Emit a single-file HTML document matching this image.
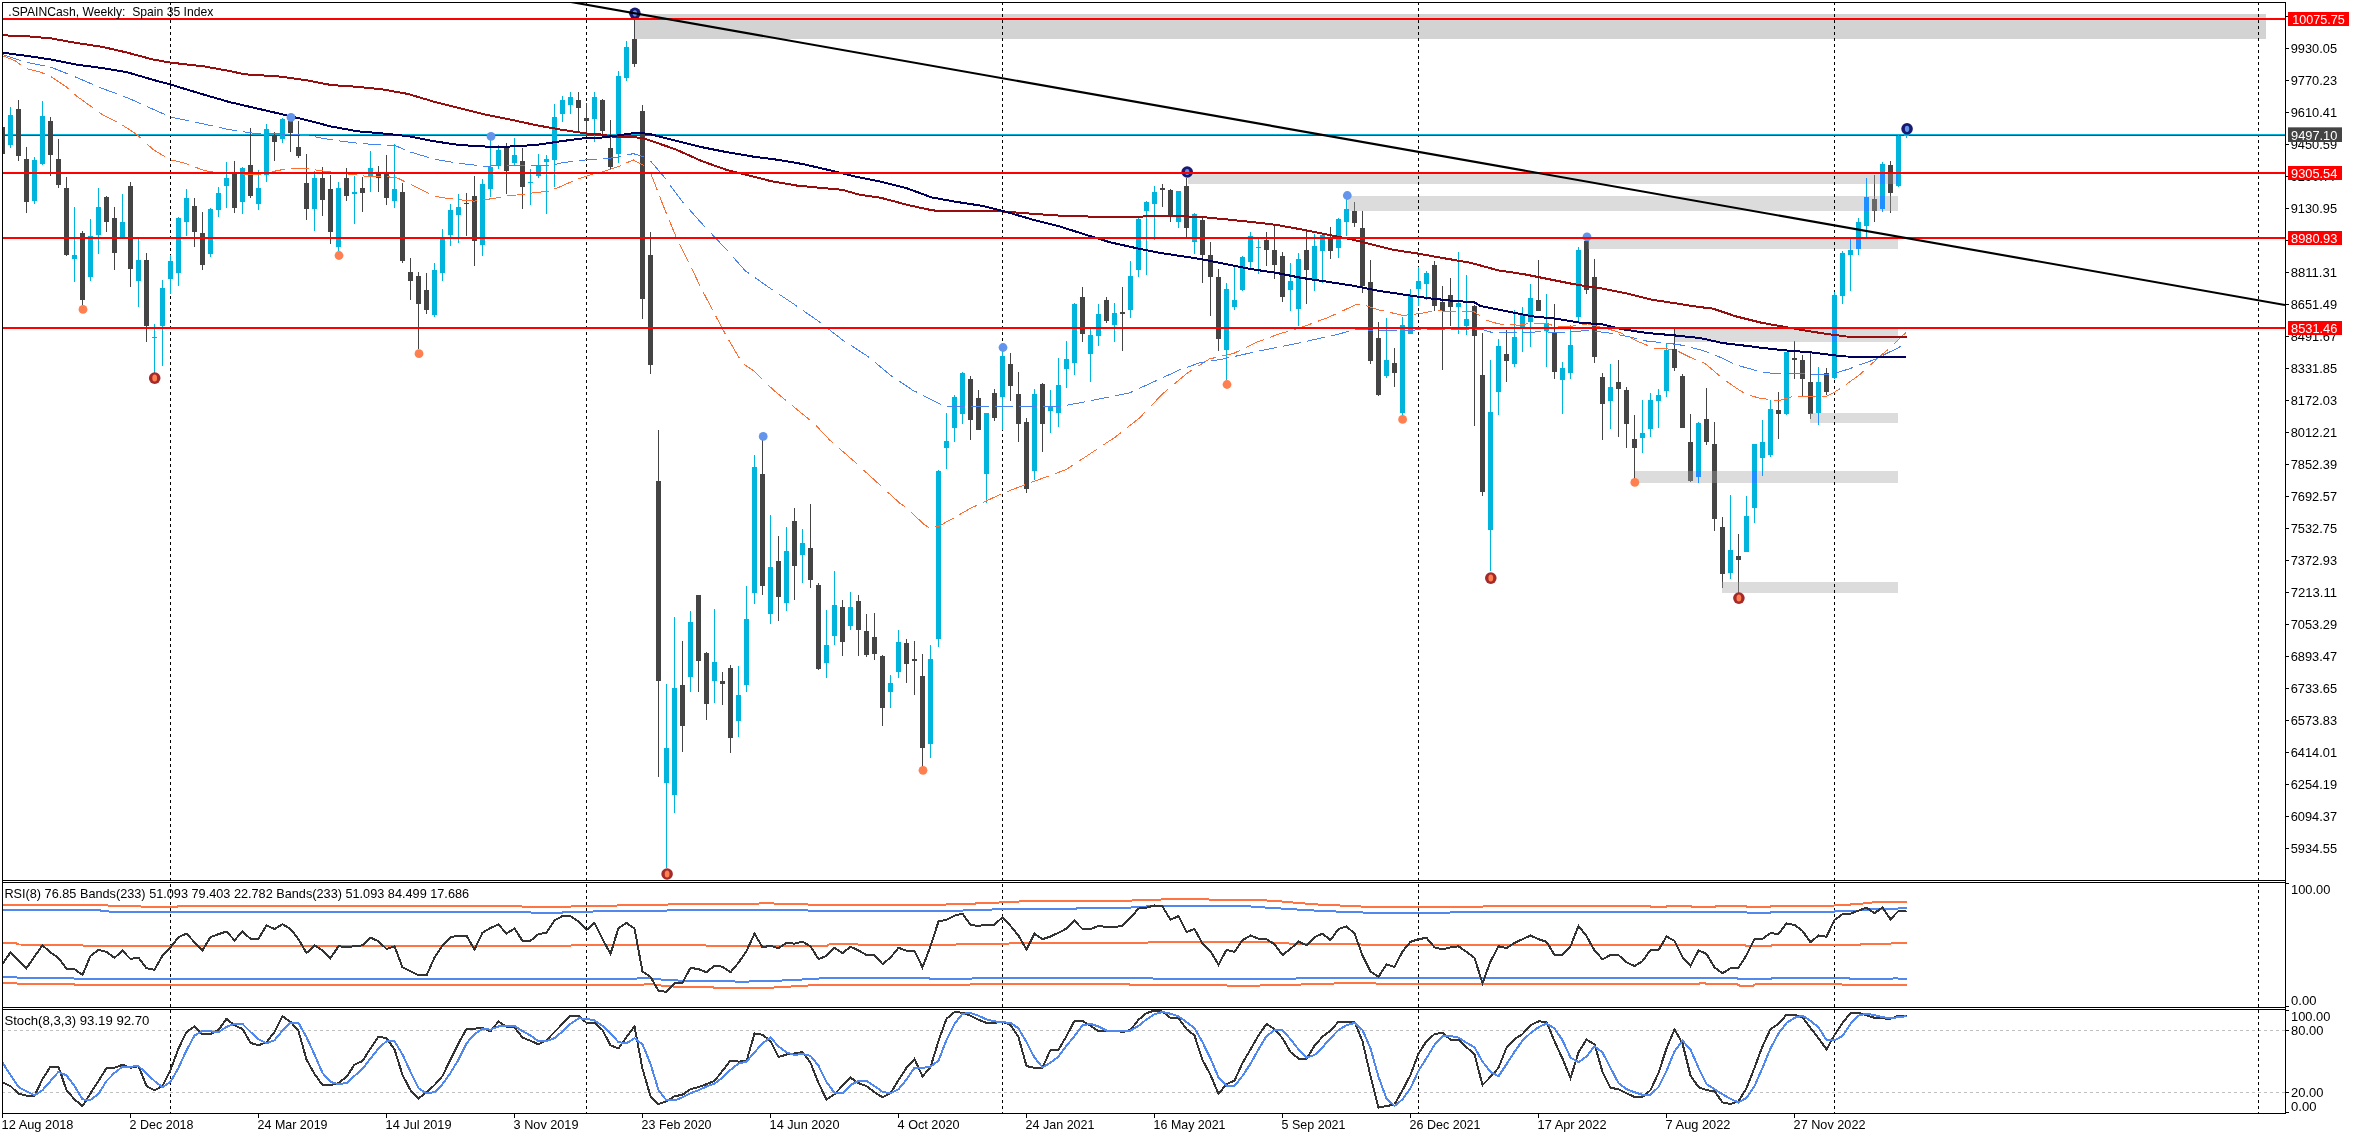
<!DOCTYPE html><html><head><meta charset="utf-8"><title>.SPAINCash Weekly</title><style>html,body{margin:0;padding:0;background:#fff}svg{display:block}</style></head><body><svg width="2355" height="1137" viewBox="0 0 2355 1137" font-family="'Liberation Sans', sans-serif" font-size="12.2px">
<defs><filter id="gs" filterUnits="userSpaceOnUse" x="0" y="0" width="2355" height="1137" color-interpolation-filters="sRGB"><feColorMatrix type="matrix" values="1 0 0 0 0 0 1 0 0 0 0 0 1 0 0 0 0 0 1 0"/></filter><clipPath id="cm"><rect x="3" y="3" width="2282" height="877"/></clipPath><clipPath id="cr"><rect x="3" y="883" width="2282" height="124"/></clipPath><clipPath id="cs"><rect x="3" y="1010" width="2282" height="103"/></clipPath></defs>
<rect x="0" y="0" width="2355" height="1137" fill="#fff"/>
<g clip-path="url(#cm)" shape-rendering="crispEdges">
<rect x="635" y="14" width="1631" height="25" fill="#d3d3d3"/>
<rect x="1187.5" y="174" width="710.5" height="10" fill="#dcdcdc"/>
<rect x="1347.5" y="196" width="550.5" height="15" fill="#dcdcdc"/>
<rect x="1587.5" y="239" width="310.5" height="10" fill="#dcdcdc"/>
<rect x="1675" y="329" width="223" height="13" fill="#dcdcdc"/>
<rect x="1810" y="413" width="88" height="10" fill="#dcdcdc"/>
<rect x="1635" y="471" width="263" height="12" fill="#dcdcdc"/>
<rect x="1722" y="582" width="176" height="11" fill="#dcdcdc"/>
<line x1="170.5" y1="2" x2="170.5" y2="880" stroke="#000" stroke-width="1" stroke-dasharray="3 3"/>
<line x1="586.5" y1="2" x2="586.5" y2="880" stroke="#000" stroke-width="1" stroke-dasharray="3 3"/>
<line x1="1002.5" y1="2" x2="1002.5" y2="880" stroke="#000" stroke-width="1" stroke-dasharray="3 3"/>
<line x1="1418.5" y1="2" x2="1418.5" y2="880" stroke="#000" stroke-width="1" stroke-dasharray="3 3"/>
<line x1="1834.5" y1="2" x2="1834.5" y2="880" stroke="#000" stroke-width="1" stroke-dasharray="3 3"/>
<line x1="2258.5" y1="2" x2="2258.5" y2="880" stroke="#000" stroke-width="1" stroke-dasharray="3 3"/>
<rect x="3" y="134" width="2282" height="1" fill="#00b4dc"/>
<rect x="3" y="135" width="2282" height="1" fill="#444444"/>
<rect x="2" y="127" width="1" height="27" fill="#444444"/>
<rect x="0" y="127" width="5" height="27" fill="#444444"/>
<rect x="10" y="107" width="1" height="41" fill="#00b4dc"/>
<rect x="8" y="115" width="5" height="30" fill="#00b4dc"/>
<rect x="18" y="100" width="1" height="61" fill="#444444"/>
<rect x="16" y="109" width="5" height="47" fill="#444444"/>
<rect x="26" y="147" width="1" height="66" fill="#444444"/>
<rect x="24" y="159" width="5" height="43" fill="#444444"/>
<rect x="34" y="157" width="1" height="47" fill="#00b4dc"/>
<rect x="32" y="160" width="5" height="41" fill="#00b4dc"/>
<rect x="42" y="101" width="1" height="64" fill="#00b4dc"/>
<rect x="40" y="116" width="5" height="48" fill="#00b4dc"/>
<rect x="50" y="117" width="1" height="59" fill="#444444"/>
<rect x="48" y="121" width="5" height="34" fill="#444444"/>
<rect x="58" y="139" width="1" height="49" fill="#444444"/>
<rect x="56" y="159" width="5" height="26" fill="#444444"/>
<rect x="66" y="177" width="1" height="79" fill="#444444"/>
<rect x="64" y="188" width="5" height="67" fill="#444444"/>
<rect x="74" y="207" width="1" height="75" fill="#00b4dc"/>
<rect x="72" y="255" width="5" height="4" fill="#00b4dc"/>
<rect x="82" y="231" width="1" height="74" fill="#444444"/>
<rect x="80" y="233" width="5" height="67" fill="#444444"/>
<rect x="90" y="219" width="1" height="62" fill="#00b4dc"/>
<rect x="88" y="236" width="5" height="41" fill="#00b4dc"/>
<rect x="98" y="188" width="1" height="66" fill="#00b4dc"/>
<rect x="96" y="207" width="5" height="28" fill="#00b4dc"/>
<rect x="106" y="196" width="1" height="36" fill="#444444"/>
<rect x="104" y="197" width="5" height="25" fill="#444444"/>
<rect x="114" y="207" width="1" height="63" fill="#444444"/>
<rect x="112" y="218" width="5" height="35" fill="#444444"/>
<rect x="122" y="194" width="1" height="44" fill="#00b4dc"/>
<rect x="120" y="222" width="5" height="16" fill="#00b4dc"/>
<rect x="130" y="182" width="1" height="105" fill="#444444"/>
<rect x="128" y="186" width="5" height="83" fill="#444444"/>
<rect x="138" y="239" width="1" height="68" fill="#00b4dc"/>
<rect x="136" y="260" width="5" height="21" fill="#00b4dc"/>
<rect x="146" y="253" width="1" height="89" fill="#444444"/>
<rect x="144" y="260" width="5" height="66" fill="#444444"/>
<rect x="154" y="324" width="1" height="49" fill="#00b4dc"/>
<rect x="152" y="337" width="5" height="1" fill="#00b4dc"/>
<rect x="162" y="280" width="1" height="86" fill="#00b4dc"/>
<rect x="160" y="288" width="5" height="38" fill="#00b4dc"/>
<rect x="170" y="255" width="1" height="39" fill="#00b4dc"/>
<rect x="168" y="261" width="5" height="18" fill="#00b4dc"/>
<rect x="178" y="217" width="1" height="69" fill="#00b4dc"/>
<rect x="176" y="218" width="5" height="55" fill="#00b4dc"/>
<rect x="186" y="189" width="1" height="47" fill="#00b4dc"/>
<rect x="184" y="198" width="5" height="24" fill="#00b4dc"/>
<rect x="194" y="198" width="1" height="49" fill="#444444"/>
<rect x="192" y="206" width="5" height="26" fill="#444444"/>
<rect x="202" y="212" width="1" height="58" fill="#444444"/>
<rect x="200" y="233" width="5" height="32" fill="#444444"/>
<rect x="210" y="208" width="1" height="49" fill="#00b4dc"/>
<rect x="208" y="209" width="5" height="45" fill="#00b4dc"/>
<rect x="218" y="187" width="1" height="30" fill="#00b4dc"/>
<rect x="216" y="193" width="5" height="17" fill="#00b4dc"/>
<rect x="226" y="162" width="1" height="46" fill="#00b4dc"/>
<rect x="224" y="178" width="5" height="8" fill="#00b4dc"/>
<rect x="234" y="161" width="1" height="52" fill="#444444"/>
<rect x="232" y="174" width="5" height="34" fill="#444444"/>
<rect x="242" y="167" width="1" height="47" fill="#00b4dc"/>
<rect x="240" y="168" width="5" height="34" fill="#00b4dc"/>
<rect x="250" y="128" width="1" height="70" fill="#444444"/>
<rect x="248" y="165" width="5" height="31" fill="#444444"/>
<rect x="258" y="170" width="1" height="40" fill="#00b4dc"/>
<rect x="256" y="188" width="5" height="16" fill="#00b4dc"/>
<rect x="266" y="124" width="1" height="58" fill="#00b4dc"/>
<rect x="264" y="129" width="5" height="46" fill="#00b4dc"/>
<rect x="274" y="132" width="1" height="29" fill="#444444"/>
<rect x="272" y="135" width="5" height="7" fill="#444444"/>
<rect x="282" y="118" width="1" height="25" fill="#00b4dc"/>
<rect x="280" y="119" width="5" height="20" fill="#00b4dc"/>
<rect x="290" y="118" width="1" height="34" fill="#444444"/>
<rect x="288" y="121" width="5" height="12" fill="#444444"/>
<rect x="298" y="121" width="1" height="37" fill="#444444"/>
<rect x="296" y="147" width="5" height="9" fill="#444444"/>
<rect x="306" y="154" width="1" height="66" fill="#444444"/>
<rect x="304" y="183" width="5" height="26" fill="#444444"/>
<rect x="314" y="171" width="1" height="60" fill="#00b4dc"/>
<rect x="312" y="178" width="5" height="31" fill="#00b4dc"/>
<rect x="322" y="167" width="1" height="49" fill="#444444"/>
<rect x="320" y="178" width="5" height="22" fill="#444444"/>
<rect x="330" y="175" width="1" height="69" fill="#444444"/>
<rect x="328" y="189" width="5" height="43" fill="#444444"/>
<rect x="338" y="182" width="1" height="69" fill="#00b4dc"/>
<rect x="336" y="188" width="5" height="59" fill="#00b4dc"/>
<rect x="346" y="168" width="1" height="33" fill="#444444"/>
<rect x="344" y="178" width="5" height="18" fill="#444444"/>
<rect x="354" y="176" width="1" height="48" fill="#00b4dc"/>
<rect x="352" y="192" width="5" height="2" fill="#00b4dc"/>
<rect x="362" y="177" width="1" height="35" fill="#444444"/>
<rect x="360" y="188" width="5" height="5" fill="#444444"/>
<rect x="370" y="151" width="1" height="41" fill="#00b4dc"/>
<rect x="368" y="168" width="5" height="8" fill="#00b4dc"/>
<rect x="378" y="166" width="1" height="26" fill="#444444"/>
<rect x="376" y="174" width="5" height="4" fill="#444444"/>
<rect x="386" y="155" width="1" height="50" fill="#444444"/>
<rect x="384" y="173" width="5" height="25" fill="#444444"/>
<rect x="394" y="144" width="1" height="64" fill="#00b4dc"/>
<rect x="392" y="189" width="5" height="12" fill="#00b4dc"/>
<rect x="402" y="183" width="1" height="80" fill="#444444"/>
<rect x="400" y="192" width="5" height="69" fill="#444444"/>
<rect x="410" y="258" width="1" height="42" fill="#444444"/>
<rect x="408" y="272" width="5" height="9" fill="#444444"/>
<rect x="418" y="272" width="1" height="77" fill="#444444"/>
<rect x="416" y="276" width="5" height="28" fill="#444444"/>
<rect x="426" y="273" width="1" height="41" fill="#444444"/>
<rect x="424" y="290" width="5" height="20" fill="#444444"/>
<rect x="434" y="263" width="1" height="54" fill="#00b4dc"/>
<rect x="432" y="270" width="5" height="45" fill="#00b4dc"/>
<rect x="442" y="229" width="1" height="52" fill="#00b4dc"/>
<rect x="440" y="239" width="5" height="34" fill="#00b4dc"/>
<rect x="450" y="204" width="1" height="42" fill="#00b4dc"/>
<rect x="448" y="210" width="5" height="25" fill="#00b4dc"/>
<rect x="458" y="194" width="1" height="49" fill="#00b4dc"/>
<rect x="456" y="207" width="5" height="8" fill="#00b4dc"/>
<rect x="466" y="193" width="1" height="43" fill="#444444"/>
<rect x="464" y="203" width="5" height="1" fill="#444444"/>
<rect x="474" y="176" width="1" height="90" fill="#444444"/>
<rect x="472" y="196" width="5" height="45" fill="#444444"/>
<rect x="482" y="179" width="1" height="77" fill="#00b4dc"/>
<rect x="480" y="184" width="5" height="61" fill="#00b4dc"/>
<rect x="490" y="140" width="1" height="57" fill="#00b4dc"/>
<rect x="488" y="167" width="5" height="22" fill="#00b4dc"/>
<rect x="498" y="145" width="1" height="24" fill="#00b4dc"/>
<rect x="496" y="150" width="5" height="16" fill="#00b4dc"/>
<rect x="506" y="143" width="1" height="51" fill="#444444"/>
<rect x="504" y="148" width="5" height="23" fill="#444444"/>
<rect x="514" y="138" width="1" height="28" fill="#00b4dc"/>
<rect x="512" y="155" width="5" height="8" fill="#00b4dc"/>
<rect x="522" y="148" width="1" height="61" fill="#444444"/>
<rect x="520" y="161" width="5" height="26" fill="#444444"/>
<rect x="530" y="169" width="1" height="36" fill="#00b4dc"/>
<rect x="528" y="182" width="5" height="1" fill="#00b4dc"/>
<rect x="538" y="154" width="1" height="24" fill="#00b4dc"/>
<rect x="536" y="165" width="5" height="11" fill="#00b4dc"/>
<rect x="546" y="155" width="1" height="59" fill="#00b4dc"/>
<rect x="544" y="159" width="5" height="3" fill="#00b4dc"/>
<rect x="554" y="104" width="1" height="83" fill="#00b4dc"/>
<rect x="552" y="117" width="5" height="43" fill="#00b4dc"/>
<rect x="562" y="96" width="1" height="26" fill="#00b4dc"/>
<rect x="560" y="100" width="5" height="14" fill="#00b4dc"/>
<rect x="570" y="92" width="1" height="22" fill="#00b4dc"/>
<rect x="568" y="97" width="5" height="8" fill="#00b4dc"/>
<rect x="578" y="92" width="1" height="39" fill="#444444"/>
<rect x="576" y="100" width="5" height="8" fill="#444444"/>
<rect x="586" y="103" width="1" height="32" fill="#444444"/>
<rect x="584" y="118" width="5" height="3" fill="#444444"/>
<rect x="594" y="92" width="1" height="50" fill="#00b4dc"/>
<rect x="592" y="97" width="5" height="22" fill="#00b4dc"/>
<rect x="602" y="99" width="1" height="36" fill="#444444"/>
<rect x="600" y="100" width="5" height="31" fill="#444444"/>
<rect x="610" y="120" width="1" height="49" fill="#444444"/>
<rect x="608" y="148" width="5" height="19" fill="#444444"/>
<rect x="618" y="71" width="1" height="92" fill="#00b4dc"/>
<rect x="616" y="76" width="5" height="78" fill="#00b4dc"/>
<rect x="626" y="41" width="1" height="40" fill="#00b4dc"/>
<rect x="624" y="47" width="5" height="31" fill="#00b4dc"/>
<rect x="634" y="19" width="1" height="48" fill="#444444"/>
<rect x="632" y="39" width="5" height="25" fill="#444444"/>
<rect x="642" y="105" width="1" height="214" fill="#444444"/>
<rect x="640" y="111" width="5" height="188" fill="#444444"/>
<rect x="650" y="232" width="1" height="142" fill="#444444"/>
<rect x="648" y="255" width="5" height="110" fill="#444444"/>
<rect x="658" y="430" width="1" height="347" fill="#444444"/>
<rect x="656" y="481" width="5" height="200" fill="#444444"/>
<rect x="666" y="684" width="1" height="184" fill="#00b4dc"/>
<rect x="664" y="748" width="5" height="35" fill="#00b4dc"/>
<rect x="674" y="617" width="1" height="196" fill="#00b4dc"/>
<rect x="672" y="688" width="5" height="107" fill="#00b4dc"/>
<rect x="682" y="641" width="1" height="111" fill="#444444"/>
<rect x="680" y="685" width="5" height="41" fill="#444444"/>
<rect x="690" y="611" width="1" height="81" fill="#00b4dc"/>
<rect x="688" y="622" width="5" height="55" fill="#00b4dc"/>
<rect x="698" y="595" width="1" height="97" fill="#444444"/>
<rect x="696" y="595" width="5" height="66" fill="#444444"/>
<rect x="706" y="652" width="1" height="68" fill="#444444"/>
<rect x="704" y="653" width="5" height="51" fill="#444444"/>
<rect x="714" y="609" width="1" height="94" fill="#00b4dc"/>
<rect x="712" y="662" width="5" height="19" fill="#00b4dc"/>
<rect x="722" y="672" width="1" height="33" fill="#444444"/>
<rect x="720" y="681" width="5" height="3" fill="#444444"/>
<rect x="730" y="665" width="1" height="88" fill="#444444"/>
<rect x="728" y="668" width="5" height="70" fill="#444444"/>
<rect x="738" y="666" width="1" height="71" fill="#00b4dc"/>
<rect x="736" y="695" width="5" height="26" fill="#00b4dc"/>
<rect x="746" y="586" width="1" height="106" fill="#00b4dc"/>
<rect x="744" y="619" width="5" height="66" fill="#00b4dc"/>
<rect x="754" y="455" width="1" height="149" fill="#00b4dc"/>
<rect x="752" y="467" width="5" height="126" fill="#00b4dc"/>
<rect x="762" y="440" width="1" height="155" fill="#444444"/>
<rect x="760" y="474" width="5" height="112" fill="#444444"/>
<rect x="770" y="515" width="1" height="109" fill="#00b4dc"/>
<rect x="768" y="567" width="5" height="47" fill="#00b4dc"/>
<rect x="778" y="536" width="1" height="85" fill="#444444"/>
<rect x="776" y="561" width="5" height="36" fill="#444444"/>
<rect x="786" y="527" width="1" height="84" fill="#00b4dc"/>
<rect x="784" y="551" width="5" height="52" fill="#00b4dc"/>
<rect x="794" y="508" width="1" height="92" fill="#444444"/>
<rect x="792" y="521" width="5" height="45" fill="#444444"/>
<rect x="802" y="529" width="1" height="54" fill="#00b4dc"/>
<rect x="800" y="543" width="5" height="12" fill="#00b4dc"/>
<rect x="810" y="504" width="1" height="84" fill="#444444"/>
<rect x="808" y="548" width="5" height="32" fill="#444444"/>
<rect x="818" y="583" width="1" height="87" fill="#444444"/>
<rect x="816" y="585" width="5" height="84" fill="#444444"/>
<rect x="826" y="610" width="1" height="68" fill="#00b4dc"/>
<rect x="824" y="645" width="5" height="18" fill="#00b4dc"/>
<rect x="834" y="571" width="1" height="74" fill="#00b4dc"/>
<rect x="832" y="605" width="5" height="31" fill="#00b4dc"/>
<rect x="842" y="600" width="1" height="56" fill="#444444"/>
<rect x="840" y="607" width="5" height="35" fill="#444444"/>
<rect x="850" y="592" width="1" height="38" fill="#00b4dc"/>
<rect x="848" y="607" width="5" height="19" fill="#00b4dc"/>
<rect x="858" y="595" width="1" height="61" fill="#444444"/>
<rect x="856" y="601" width="5" height="29" fill="#444444"/>
<rect x="866" y="614" width="1" height="43" fill="#444444"/>
<rect x="864" y="631" width="5" height="24" fill="#444444"/>
<rect x="874" y="613" width="1" height="47" fill="#444444"/>
<rect x="872" y="637" width="5" height="17" fill="#444444"/>
<rect x="882" y="655" width="1" height="71" fill="#444444"/>
<rect x="880" y="656" width="5" height="52" fill="#444444"/>
<rect x="890" y="675" width="1" height="33" fill="#00b4dc"/>
<rect x="888" y="683" width="5" height="9" fill="#00b4dc"/>
<rect x="898" y="630" width="1" height="48" fill="#00b4dc"/>
<rect x="896" y="642" width="5" height="30" fill="#00b4dc"/>
<rect x="906" y="639" width="1" height="44" fill="#444444"/>
<rect x="904" y="643" width="5" height="21" fill="#444444"/>
<rect x="914" y="641" width="1" height="54" fill="#444444"/>
<rect x="912" y="659" width="5" height="2" fill="#444444"/>
<rect x="922" y="654" width="1" height="113" fill="#444444"/>
<rect x="920" y="676" width="5" height="72" fill="#444444"/>
<rect x="930" y="645" width="1" height="113" fill="#00b4dc"/>
<rect x="928" y="659" width="5" height="85" fill="#00b4dc"/>
<rect x="938" y="470" width="1" height="177" fill="#00b4dc"/>
<rect x="936" y="471" width="5" height="168" fill="#00b4dc"/>
<rect x="946" y="413" width="1" height="56" fill="#00b4dc"/>
<rect x="944" y="441" width="5" height="7" fill="#00b4dc"/>
<rect x="954" y="395" width="1" height="47" fill="#00b4dc"/>
<rect x="952" y="397" width="5" height="31" fill="#00b4dc"/>
<rect x="962" y="372" width="1" height="52" fill="#00b4dc"/>
<rect x="960" y="373" width="5" height="41" fill="#00b4dc"/>
<rect x="970" y="376" width="1" height="64" fill="#444444"/>
<rect x="968" y="379" width="5" height="41" fill="#444444"/>
<rect x="978" y="390" width="1" height="40" fill="#444444"/>
<rect x="976" y="398" width="5" height="32" fill="#444444"/>
<rect x="986" y="413" width="1" height="90" fill="#00b4dc"/>
<rect x="984" y="413" width="5" height="61" fill="#00b4dc"/>
<rect x="994" y="389" width="1" height="32" fill="#444444"/>
<rect x="992" y="393" width="5" height="25" fill="#444444"/>
<rect x="1002" y="351" width="1" height="79" fill="#00b4dc"/>
<rect x="1000" y="356" width="5" height="41" fill="#00b4dc"/>
<rect x="1010" y="353" width="1" height="48" fill="#444444"/>
<rect x="1008" y="364" width="5" height="22" fill="#444444"/>
<rect x="1018" y="372" width="1" height="70" fill="#444444"/>
<rect x="1016" y="394" width="5" height="30" fill="#444444"/>
<rect x="1026" y="418" width="1" height="75" fill="#444444"/>
<rect x="1024" y="422" width="5" height="67" fill="#444444"/>
<rect x="1034" y="389" width="1" height="91" fill="#00b4dc"/>
<rect x="1032" y="394" width="5" height="77" fill="#00b4dc"/>
<rect x="1042" y="383" width="1" height="69" fill="#444444"/>
<rect x="1040" y="384" width="5" height="40" fill="#444444"/>
<rect x="1050" y="390" width="1" height="43" fill="#00b4dc"/>
<rect x="1048" y="407" width="5" height="4" fill="#00b4dc"/>
<rect x="1058" y="358" width="1" height="69" fill="#00b4dc"/>
<rect x="1056" y="385" width="5" height="28" fill="#00b4dc"/>
<rect x="1066" y="341" width="1" height="47" fill="#00b4dc"/>
<rect x="1064" y="359" width="5" height="10" fill="#00b4dc"/>
<rect x="1074" y="303" width="1" height="72" fill="#00b4dc"/>
<rect x="1072" y="304" width="5" height="59" fill="#00b4dc"/>
<rect x="1082" y="287" width="1" height="55" fill="#444444"/>
<rect x="1080" y="297" width="5" height="37" fill="#444444"/>
<rect x="1090" y="329" width="1" height="53" fill="#00b4dc"/>
<rect x="1088" y="335" width="5" height="19" fill="#00b4dc"/>
<rect x="1098" y="304" width="1" height="42" fill="#00b4dc"/>
<rect x="1096" y="314" width="5" height="22" fill="#00b4dc"/>
<rect x="1106" y="297" width="1" height="26" fill="#444444"/>
<rect x="1104" y="300" width="5" height="21" fill="#444444"/>
<rect x="1114" y="303" width="1" height="39" fill="#00b4dc"/>
<rect x="1112" y="313" width="5" height="12" fill="#00b4dc"/>
<rect x="1122" y="287" width="1" height="64" fill="#444444"/>
<rect x="1120" y="312" width="5" height="2" fill="#444444"/>
<rect x="1130" y="261" width="1" height="57" fill="#00b4dc"/>
<rect x="1128" y="276" width="5" height="34" fill="#00b4dc"/>
<rect x="1138" y="218" width="1" height="59" fill="#00b4dc"/>
<rect x="1136" y="219" width="5" height="51" fill="#00b4dc"/>
<rect x="1146" y="201" width="1" height="74" fill="#00b4dc"/>
<rect x="1144" y="202" width="5" height="9" fill="#00b4dc"/>
<rect x="1154" y="186" width="1" height="54" fill="#00b4dc"/>
<rect x="1152" y="192" width="5" height="12" fill="#00b4dc"/>
<rect x="1162" y="184" width="1" height="23" fill="#444444"/>
<rect x="1160" y="188" width="5" height="2" fill="#444444"/>
<rect x="1170" y="189" width="1" height="33" fill="#444444"/>
<rect x="1168" y="190" width="5" height="25" fill="#444444"/>
<rect x="1178" y="191" width="1" height="37" fill="#00b4dc"/>
<rect x="1176" y="191" width="5" height="31" fill="#00b4dc"/>
<rect x="1186" y="178" width="1" height="59" fill="#444444"/>
<rect x="1184" y="186" width="5" height="42" fill="#444444"/>
<rect x="1194" y="213" width="1" height="41" fill="#00b4dc"/>
<rect x="1192" y="214" width="5" height="28" fill="#00b4dc"/>
<rect x="1202" y="218" width="1" height="65" fill="#444444"/>
<rect x="1200" y="220" width="5" height="35" fill="#444444"/>
<rect x="1210" y="242" width="1" height="74" fill="#444444"/>
<rect x="1208" y="255" width="5" height="22" fill="#444444"/>
<rect x="1218" y="269" width="1" height="82" fill="#444444"/>
<rect x="1216" y="277" width="5" height="62" fill="#444444"/>
<rect x="1226" y="283" width="1" height="97" fill="#00b4dc"/>
<rect x="1224" y="289" width="5" height="61" fill="#00b4dc"/>
<rect x="1234" y="266" width="1" height="44" fill="#00b4dc"/>
<rect x="1232" y="300" width="5" height="7" fill="#00b4dc"/>
<rect x="1242" y="256" width="1" height="35" fill="#00b4dc"/>
<rect x="1240" y="257" width="5" height="33" fill="#00b4dc"/>
<rect x="1250" y="232" width="1" height="36" fill="#00b4dc"/>
<rect x="1248" y="236" width="5" height="26" fill="#00b4dc"/>
<rect x="1258" y="238" width="1" height="36" fill="#00b4dc"/>
<rect x="1256" y="247" width="5" height="1" fill="#00b4dc"/>
<rect x="1266" y="232" width="1" height="34" fill="#444444"/>
<rect x="1264" y="240" width="5" height="10" fill="#444444"/>
<rect x="1274" y="225" width="1" height="54" fill="#444444"/>
<rect x="1272" y="250" width="5" height="15" fill="#444444"/>
<rect x="1282" y="252" width="1" height="50" fill="#444444"/>
<rect x="1280" y="256" width="5" height="41" fill="#444444"/>
<rect x="1290" y="263" width="1" height="48" fill="#00b4dc"/>
<rect x="1288" y="281" width="5" height="9" fill="#00b4dc"/>
<rect x="1298" y="253" width="1" height="73" fill="#00b4dc"/>
<rect x="1296" y="259" width="5" height="50" fill="#00b4dc"/>
<rect x="1306" y="230" width="1" height="74" fill="#444444"/>
<rect x="1304" y="250" width="5" height="20" fill="#444444"/>
<rect x="1314" y="234" width="1" height="57" fill="#00b4dc"/>
<rect x="1312" y="246" width="5" height="33" fill="#00b4dc"/>
<rect x="1322" y="234" width="1" height="49" fill="#00b4dc"/>
<rect x="1320" y="235" width="5" height="16" fill="#00b4dc"/>
<rect x="1330" y="227" width="1" height="32" fill="#444444"/>
<rect x="1328" y="238" width="5" height="13" fill="#444444"/>
<rect x="1338" y="218" width="1" height="40" fill="#00b4dc"/>
<rect x="1336" y="219" width="5" height="29" fill="#00b4dc"/>
<rect x="1346" y="197" width="1" height="39" fill="#00b4dc"/>
<rect x="1344" y="209" width="5" height="13" fill="#00b4dc"/>
<rect x="1347.5" y="209" width="1.5" height="2" fill="#1e90ff"/>
<rect x="1354" y="202" width="1" height="25" fill="#444444"/>
<rect x="1352" y="211" width="5" height="12" fill="#444444"/>
<rect x="1354" y="202" width="1" height="9" fill="#696969"/>
<rect x="1362" y="211" width="1" height="82" fill="#444444"/>
<rect x="1360" y="228" width="5" height="58" fill="#444444"/>
<rect x="1370" y="260" width="1" height="104" fill="#444444"/>
<rect x="1368" y="282" width="5" height="79" fill="#444444"/>
<rect x="1378" y="322" width="1" height="74" fill="#444444"/>
<rect x="1376" y="338" width="5" height="57" fill="#444444"/>
<rect x="1386" y="318" width="1" height="60" fill="#00b4dc"/>
<rect x="1384" y="360" width="5" height="16" fill="#00b4dc"/>
<rect x="1394" y="348" width="1" height="39" fill="#444444"/>
<rect x="1392" y="363" width="5" height="10" fill="#444444"/>
<rect x="1402" y="317" width="1" height="99" fill="#00b4dc"/>
<rect x="1400" y="325" width="5" height="88" fill="#00b4dc"/>
<rect x="1410" y="289" width="1" height="45" fill="#00b4dc"/>
<rect x="1408" y="296" width="5" height="38" fill="#00b4dc"/>
<rect x="1418" y="267" width="1" height="39" fill="#00b4dc"/>
<rect x="1416" y="281" width="5" height="8" fill="#00b4dc"/>
<rect x="1426" y="271" width="1" height="29" fill="#00b4dc"/>
<rect x="1424" y="273" width="5" height="11" fill="#00b4dc"/>
<rect x="1434" y="261" width="1" height="50" fill="#444444"/>
<rect x="1432" y="265" width="5" height="41" fill="#444444"/>
<rect x="1442" y="286" width="1" height="84" fill="#444444"/>
<rect x="1440" y="302" width="5" height="9" fill="#444444"/>
<rect x="1450" y="278" width="1" height="48" fill="#444444"/>
<rect x="1448" y="295" width="5" height="12" fill="#444444"/>
<rect x="1458" y="252" width="1" height="82" fill="#00b4dc"/>
<rect x="1456" y="303" width="5" height="4" fill="#00b4dc"/>
<rect x="1466" y="275" width="1" height="60" fill="#00b4dc"/>
<rect x="1464" y="319" width="5" height="7" fill="#00b4dc"/>
<rect x="1474" y="305" width="1" height="121" fill="#444444"/>
<rect x="1472" y="306" width="5" height="30" fill="#444444"/>
<rect x="1482" y="333" width="1" height="163" fill="#444444"/>
<rect x="1480" y="375" width="5" height="117" fill="#444444"/>
<rect x="1490" y="360" width="1" height="211" fill="#00b4dc"/>
<rect x="1488" y="412" width="5" height="118" fill="#00b4dc"/>
<rect x="1498" y="339" width="1" height="76" fill="#00b4dc"/>
<rect x="1496" y="346" width="5" height="46" fill="#00b4dc"/>
<rect x="1506" y="330" width="1" height="52" fill="#444444"/>
<rect x="1504" y="354" width="5" height="7" fill="#444444"/>
<rect x="1514" y="310" width="1" height="57" fill="#00b4dc"/>
<rect x="1512" y="337" width="5" height="27" fill="#00b4dc"/>
<rect x="1522" y="307" width="1" height="45" fill="#00b4dc"/>
<rect x="1520" y="315" width="5" height="12" fill="#00b4dc"/>
<rect x="1530" y="284" width="1" height="63" fill="#00b4dc"/>
<rect x="1528" y="298" width="5" height="24" fill="#00b4dc"/>
<rect x="1538" y="260" width="1" height="51" fill="#444444"/>
<rect x="1536" y="300" width="5" height="11" fill="#444444"/>
<rect x="1546" y="294" width="1" height="73" fill="#00b4dc"/>
<rect x="1544" y="323" width="5" height="8" fill="#00b4dc"/>
<rect x="1554" y="304" width="1" height="75" fill="#444444"/>
<rect x="1552" y="332" width="5" height="40" fill="#444444"/>
<rect x="1562" y="362" width="1" height="52" fill="#00b4dc"/>
<rect x="1560" y="368" width="5" height="12" fill="#00b4dc"/>
<rect x="1570" y="325" width="1" height="54" fill="#00b4dc"/>
<rect x="1568" y="345" width="5" height="28" fill="#00b4dc"/>
<rect x="1578" y="247" width="1" height="76" fill="#00b4dc"/>
<rect x="1576" y="250" width="5" height="67" fill="#00b4dc"/>
<rect x="1586" y="240" width="1" height="54" fill="#444444"/>
<rect x="1584" y="241" width="5" height="49" fill="#444444"/>
<rect x="1587.5" y="241" width="1.5" height="8" fill="#696969"/>
<rect x="1594" y="259" width="1" height="104" fill="#444444"/>
<rect x="1592" y="277" width="5" height="80" fill="#444444"/>
<rect x="1602" y="373" width="1" height="67" fill="#444444"/>
<rect x="1600" y="377" width="5" height="27" fill="#444444"/>
<rect x="1610" y="364" width="1" height="65" fill="#00b4dc"/>
<rect x="1608" y="387" width="5" height="14" fill="#00b4dc"/>
<rect x="1618" y="360" width="1" height="77" fill="#444444"/>
<rect x="1616" y="382" width="5" height="7" fill="#444444"/>
<rect x="1626" y="387" width="1" height="61" fill="#444444"/>
<rect x="1624" y="390" width="5" height="34" fill="#444444"/>
<rect x="1634" y="415" width="1" height="64" fill="#444444"/>
<rect x="1632" y="439" width="5" height="9" fill="#444444"/>
<rect x="1642" y="400" width="1" height="53" fill="#00b4dc"/>
<rect x="1640" y="433" width="5" height="5" fill="#00b4dc"/>
<rect x="1650" y="393" width="1" height="44" fill="#00b4dc"/>
<rect x="1648" y="400" width="5" height="29" fill="#00b4dc"/>
<rect x="1658" y="389" width="1" height="39" fill="#00b4dc"/>
<rect x="1656" y="395" width="5" height="6" fill="#00b4dc"/>
<rect x="1666" y="343" width="1" height="54" fill="#00b4dc"/>
<rect x="1664" y="350" width="5" height="41" fill="#00b4dc"/>
<rect x="1674" y="329" width="1" height="42" fill="#444444"/>
<rect x="1672" y="349" width="5" height="19" fill="#444444"/>
<rect x="1682" y="374" width="1" height="54" fill="#444444"/>
<rect x="1680" y="376" width="5" height="52" fill="#444444"/>
<rect x="1690" y="414" width="1" height="68" fill="#444444"/>
<rect x="1688" y="442" width="5" height="39" fill="#444444"/>
<rect x="1690" y="471" width="1" height="11" fill="#696969"/>
<rect x="1688" y="471" width="5" height="10" fill="#696969"/>
<rect x="1698" y="422" width="1" height="61" fill="#00b4dc"/>
<rect x="1696" y="423" width="5" height="54" fill="#00b4dc"/>
<rect x="1698" y="471" width="1" height="12" fill="#1e90ff"/>
<rect x="1696" y="471" width="5" height="6" fill="#1e90ff"/>
<rect x="1706" y="388" width="1" height="57" fill="#444444"/>
<rect x="1704" y="419" width="5" height="23" fill="#444444"/>
<rect x="1714" y="422" width="1" height="109" fill="#444444"/>
<rect x="1712" y="444" width="5" height="75" fill="#444444"/>
<rect x="1714" y="471" width="1" height="12" fill="#696969"/>
<rect x="1712" y="471" width="5" height="12" fill="#696969"/>
<rect x="1722" y="517" width="1" height="71" fill="#444444"/>
<rect x="1720" y="527" width="5" height="47" fill="#444444"/>
<rect x="1722" y="582" width="1" height="6" fill="#696969"/>
<rect x="1730" y="495" width="1" height="84" fill="#00b4dc"/>
<rect x="1728" y="550" width="5" height="23" fill="#00b4dc"/>
<rect x="1738" y="534" width="1" height="59" fill="#444444"/>
<rect x="1736" y="556" width="5" height="4" fill="#444444"/>
<rect x="1738" y="582" width="1" height="11" fill="#696969"/>
<rect x="1746" y="496" width="1" height="56" fill="#00b4dc"/>
<rect x="1744" y="516" width="5" height="36" fill="#00b4dc"/>
<rect x="1754" y="444" width="1" height="79" fill="#00b4dc"/>
<rect x="1752" y="444" width="5" height="64" fill="#00b4dc"/>
<rect x="1754" y="471" width="1" height="12" fill="#1e90ff"/>
<rect x="1752" y="471" width="5" height="12" fill="#1e90ff"/>
<rect x="1762" y="420" width="1" height="56" fill="#00b4dc"/>
<rect x="1760" y="442" width="5" height="16" fill="#00b4dc"/>
<rect x="1762" y="471" width="1" height="5" fill="#1e90ff"/>
<rect x="1770" y="400" width="1" height="57" fill="#00b4dc"/>
<rect x="1768" y="409" width="5" height="46" fill="#00b4dc"/>
<rect x="1778" y="392" width="1" height="47" fill="#444444"/>
<rect x="1776" y="410" width="5" height="4" fill="#444444"/>
<rect x="1786" y="352" width="1" height="63" fill="#00b4dc"/>
<rect x="1784" y="352" width="5" height="62" fill="#00b4dc"/>
<rect x="1794" y="341" width="1" height="38" fill="#444444"/>
<rect x="1792" y="358" width="5" height="2" fill="#444444"/>
<rect x="1794" y="341" width="1" height="1" fill="#696969"/>
<rect x="1802" y="355" width="1" height="41" fill="#444444"/>
<rect x="1800" y="360" width="5" height="19" fill="#444444"/>
<rect x="1810" y="353" width="1" height="66" fill="#444444"/>
<rect x="1808" y="382" width="5" height="32" fill="#444444"/>
<rect x="1810" y="413" width="1" height="6" fill="#696969"/>
<rect x="1810" y="413" width="3" height="1" fill="#696969"/>
<rect x="1818" y="367" width="1" height="58" fill="#00b4dc"/>
<rect x="1816" y="382" width="5" height="31" fill="#00b4dc"/>
<rect x="1818" y="413" width="1" height="10" fill="#1e90ff"/>
<rect x="1826" y="368" width="1" height="27" fill="#444444"/>
<rect x="1824" y="373" width="5" height="19" fill="#444444"/>
<rect x="1834" y="292" width="1" height="87" fill="#00b4dc"/>
<rect x="1832" y="295" width="5" height="83" fill="#00b4dc"/>
<rect x="1834" y="329" width="1" height="13" fill="#1e90ff"/>
<rect x="1832" y="329" width="5" height="13" fill="#1e90ff"/>
<rect x="1842" y="251" width="1" height="53" fill="#00b4dc"/>
<rect x="1840" y="253" width="5" height="43" fill="#00b4dc"/>
<rect x="1850" y="239" width="1" height="52" fill="#00b4dc"/>
<rect x="1848" y="250" width="5" height="5" fill="#00b4dc"/>
<rect x="1850" y="239" width="1" height="10" fill="#1e90ff"/>
<rect x="1858" y="218" width="1" height="37" fill="#00b4dc"/>
<rect x="1856" y="222" width="5" height="27" fill="#00b4dc"/>
<rect x="1858" y="239" width="1" height="10" fill="#1e90ff"/>
<rect x="1856" y="239" width="5" height="10" fill="#1e90ff"/>
<rect x="1866" y="178" width="1" height="59" fill="#00b4dc"/>
<rect x="1864" y="197" width="5" height="29" fill="#00b4dc"/>
<rect x="1866" y="178" width="1" height="6" fill="#1e90ff"/>
<rect x="1866" y="196" width="1" height="15" fill="#1e90ff"/>
<rect x="1864" y="197" width="5" height="14" fill="#1e90ff"/>
<rect x="1874" y="175" width="1" height="47" fill="#444444"/>
<rect x="1872" y="199" width="5" height="12" fill="#444444"/>
<rect x="1874" y="175" width="1" height="9" fill="#696969"/>
<rect x="1874" y="196" width="1" height="15" fill="#696969"/>
<rect x="1872" y="199" width="5" height="12" fill="#696969"/>
<rect x="1882" y="162" width="1" height="50" fill="#00b4dc"/>
<rect x="1880" y="164" width="5" height="45" fill="#00b4dc"/>
<rect x="1882" y="174" width="1" height="10" fill="#1e90ff"/>
<rect x="1882" y="196" width="1" height="15" fill="#1e90ff"/>
<rect x="1880" y="174" width="5" height="10" fill="#1e90ff"/>
<rect x="1880" y="196" width="5" height="13" fill="#1e90ff"/>
<rect x="1890" y="161" width="1" height="52" fill="#444444"/>
<rect x="1888" y="165" width="5" height="28" fill="#444444"/>
<rect x="1890" y="174" width="1" height="10" fill="#696969"/>
<rect x="1890" y="196" width="1" height="15" fill="#696969"/>
<rect x="1888" y="174" width="5" height="10" fill="#696969"/>
<rect x="1898" y="135" width="1" height="52" fill="#00b4dc"/>
<rect x="1896" y="136" width="5" height="50" fill="#00b4dc"/>
<rect x="1896" y="174" width="2" height="10" fill="#1e90ff"/>
<rect x="1906" y="135" width="1" height="3" fill="#00b4dc"/>
<rect x="1904" y="135" width="5" height="1" fill="#00b4dc"/>
</g>
<g clip-path="url(#cm)" shape-rendering="crispEdges">
<path d="M2.6 55.7 L15.3 60.8 L20.6 64.8M26.6 68.7 L40.8 72.3 L44.6 73.9M50.6 76.4 L51.0 76.6 L66.3 86.8 L68.6 88.8M74.6 94.2 L76.5 96.0 L92.6 107.6M98.6 111.9 L102.0 114.4 L116.6 121.6M122.6 125.3 L127.6 128.4 L137.8 135.3 L140.6 137.9M146.6 143.5 L153.1 149.6 L164.6 156.4M170.6 159.8 L183.7 162.9 L188.6 164.7M194.6 166.9 L204.1 170.5 L212.6 171.9M218.6 172.9 L219.4 173.1 L236.6 174.0M242.6 174.3 L260.2 174.8 L260.6 174.8M266.6 173.3 L275.5 171.0 L284.6 169.2M290.6 168.0 L290.8 168.0 L303.6 168.0 L308.6 168.8M314.6 169.8 L318.9 170.5 L332.6 172.2M338.6 173.0 L339.3 173.1 L356.6 175.0M362.6 175.8 L367.3 176.4 L380.6 176.2M386.6 176.6 L398.0 178.2 L404.6 181.5M410.6 184.5 L428.6 193.5M434.6 196.2 L449.0 198.6 L452.6 199.0M458.6 199.8 L459.2 199.8 L474.5 201.1 L476.6 200.9M482.6 200.1 L484.7 199.8 L500.6 197.2M506.6 196.1 L510.2 195.5 L523.0 194.5 L524.6 194.2M530.6 193.3 L535.7 192.4 L548.5 191.4 L548.6 191.4M554.6 189.0 L561.2 186.3 L572.6 181.2M578.6 178.8 L591.8 174.3 L596.6 173.4M602.6 171.9 L617.9 166.8 L620.6 165.6M626.6 162.9 L633.2 159.9 L643.4 165.1 L644.4 166.2M649.5 172.2 L651.0 174.0 L657.3 190.2M659.6 196.2 L663.8 207.1 L666.7 214.2M669.2 220.2 L676.5 237.8 L676.8 238.2M679.8 244.2 L688.0 260.7 L688.7 262.2M691.6 268.2 L700.2 286.2M703.2 292.2 L712.7 310.2M715.8 316.2 L725.0 333.4 L725.5 334.2M728.9 340.2 L739.0 357.7 L739.5 358.2M744.5 364.2 L745.4 365.3 L753.1 370.4 L762.3 379.3M768.3 385.1 L773.5 390.1 L786.3 400.7M792.3 405.6 L810.3 420.4M816.2 425.7 L829.6 440.0 L833.3 443.2M839.3 448.4 L853.6 460.9 L857.3 464.4M863.3 469.9 L877.6 482.9 L881.3 486.3M887.3 491.8 L899.5 502.9 L905.3 507.2M911.3 512.5 L924.5 524.8 L929.3 527.7M935.3 527.0 L940.0 525.6 L953.3 518.1M959.3 514.7 L969.9 508.6 L977.3 505.2M983.3 502.4 L1001.3 493.9M1007.3 491.6 L1019.9 486.7 L1025.3 484.7M1031.3 482.4 L1049.3 475.8M1055.3 473.6 L1065.8 469.7 L1073.3 464.8M1079.3 460.9 L1091.7 452.7 L1097.3 449.0M1103.3 445.0 L1115.7 436.8 L1121.3 432.3M1127.3 427.6 L1139.7 417.8 L1145.1 412.1M1150.9 406.1 L1162.6 393.8 L1168.3 389.0M1174.3 384.0 L1187.6 372.9 L1192.3 369.8M1198.3 366.0 L1209.5 358.9 L1216.3 357.4M1222.3 356.0 L1233.5 353.5 L1240.3 350.2M1246.3 347.3 L1257.5 341.9 L1264.3 339.4M1270.3 337.2 L1279.4 333.9 L1288.3 331.2M1294.3 329.4 L1305.4 326.0 L1312.3 323.3M1318.3 321.1 L1329.3 317.0 L1336.3 313.7M1342.3 311.0 L1355.3 305.0 L1360.3 304.2M1366.3 305.7 L1379.3 310.0 L1384.3 311.1M1390.3 312.5 L1401.2 315.0 L1406.6 315.0 L1408.3 314.8M1414.3 314.2 L1419.4 313.7 L1432.3 311.1M1438.3 310.8 L1455.1 311.7 L1456.3 311.7M1462.3 311.7 L1474.2 311.7 L1480.3 316.2M1486.3 320.3 L1498.5 323.9 L1504.3 324.3M1510.3 324.7 L1518.9 325.2 L1528.3 323.7M1534.3 323.2 L1544.4 323.2 L1552.3 325.2M1558.3 326.5 L1569.9 326.5 L1576.3 325.6M1582.3 324.7 L1587.8 323.9 L1600.3 327.1M1606.3 328.6 L1608.2 329.0 L1620.9 332.9 L1624.3 334.6M1630.3 337.6 L1638.8 341.8 L1648.3 345.8M1654.3 348.2 L1666.8 348.7 L1672.3 349.8M1678.3 351.4 L1689.8 357.1 L1696.3 359.8M1702.3 362.3 L1705.1 363.5 L1720.3 376.5M1726.3 381.1 L1735.7 387.7 L1744.3 393.1M1750.3 395.4 L1760.0 398.4 L1768.3 399.3M1774.3 400.0 L1778.5 400.6 L1786.5 398.4 L1792.3 396.5M1798.3 396.3 L1810.5 396.3 L1816.3 396.5M1822.3 396.3 L1826.5 396.1 L1834.5 392.2 L1840.3 388.5M1846.3 384.3 L1858.5 375.6 L1864.3 370.6M1870.3 365.2 L1881.9 354.6 L1888.3 349.3M1894.3 343.6 L1905.9 332.5" fill="none" stroke="#ff6e32" stroke-width="1"/>
<path d="M2.6 54.4 L20.6 60.4M26.6 62.3 L44.6 65.9M50.6 67.1 L51.0 67.2 L68.6 74.2M74.6 76.6 L76.5 77.4 L92.6 84.3M98.6 86.9 L102.0 88.4 L116.6 93.7M122.6 96.0 L127.6 97.8 L140.6 103.7M146.6 106.4 L153.1 109.3 L164.6 114.4M170.6 117.0 L188.6 120.8M194.6 122.1 L204.1 124.1 L212.6 125.9M218.6 127.3 L229.6 129.7 L236.6 130.7M242.6 131.6 L255.1 133.5 L260.6 133.6M266.6 133.7 L280.6 134.0 L284.6 134.2M290.6 134.5 L306.1 135.3 L308.6 135.7M314.6 136.8 L331.6 139.9 L332.6 140.0M338.6 140.8 L356.6 143.1M362.6 143.6 L380.6 144.9M386.6 145.0 L394.1 145.0 L404.6 149.7M410.6 152.1 L428.6 157.5M434.6 159.2 L452.6 162.2M458.6 163.3 L459.2 163.4 L476.6 165.3M482.6 165.9 L484.7 166.2 L500.6 165.7M506.6 165.5 L510.2 165.4 L524.6 165.7M530.6 165.8 L535.7 165.9 L548.5 165.9 L548.6 165.9M554.6 164.5 L561.2 162.9 L572.6 161.5M578.6 160.8 L586.7 159.8 L596.6 159.1M602.6 158.7 L617.9 157.4 L620.6 156.7M626.6 155.2 L633.2 153.6 L643.4 156.6 L644.6 157.2M650.4 160.8 L663.8 176.5 L665.4 178.8M669.8 184.8 L681.6 200.8 L683.4 202.8M688.7 208.8 L702.0 223.7 L704.9 226.8M710.6 232.8 L725.0 248.0 L727.5 250.8M732.8 256.8 L745.4 270.9 L749.2 273.6M755.2 277.8 L770.9 288.8 L773.2 290.3M779.2 294.3 L793.9 304.1 L797.2 306.4M803.2 310.6 L819.4 321.9 L821.2 323.4M827.2 328.0 L842.3 339.8 L845.2 341.7M851.2 345.6 L867.9 356.4 L869.2 357.5M875.2 362.5 L890.8 375.5 L893.2 377.1M899.2 381.2 L912.5 390.1 L917.2 392.4M923.2 395.5 L941.2 404.5M947.2 406.4 L965.2 406.4M971.2 406.4 L989.2 406.4M995.2 406.4 L1013.2 406.4M1019.2 406.4 L1037.2 406.4M1043.2 406.4 L1059.8 406.4 L1061.2 406.2M1067.2 405.1 L1079.8 402.8 L1085.2 401.7M1091.2 400.5 L1109.2 396.9M1115.2 395.7 L1129.7 392.8 L1133.2 391.2M1139.2 388.4 L1157.2 380.2M1163.2 377.4 L1179.6 369.9 L1181.2 369.3M1187.2 367.2 L1199.6 362.9 L1205.2 361.9M1211.2 360.9 L1223.5 358.9 L1229.2 357.6M1235.2 356.3 L1253.2 352.3M1259.2 351.0 L1259.5 350.9 L1277.2 347.4M1283.2 346.2 L1299.4 342.9 L1301.2 342.5M1307.2 341.2 L1325.2 337.1M1331.2 335.8 L1339.3 333.9 L1349.2 331.2M1355.2 329.6 L1355.3 329.5 L1373.2 330.2M1379.2 330.4 L1395.2 330.9 L1397.2 330.8M1403.2 330.5 L1406.6 330.3 L1421.2 329.8M1427.2 329.6 L1429.6 329.5 L1445.2 329.2M1451.2 329.1 L1455.1 329.0 L1469.2 329.0M1475.2 329.0 L1480.6 329.0 L1493.2 332.8M1499.2 332.9 L1517.2 332.9M1523.2 332.6 L1541.2 331.7M1547.2 331.9 L1557.1 332.9 L1565.2 332.3M1571.2 331.8 L1575.0 331.6 L1587.8 330.3 L1589.2 330.5M1595.2 331.2 L1608.2 332.9 L1613.2 333.8M1619.2 334.9 L1628.6 336.7 L1637.2 338.8M1643.2 340.2 L1646.4 341.0 L1661.2 342.5M1667.2 343.1 L1684.7 345.6 L1685.2 345.8M1691.2 347.4 L1705.1 351.2 L1709.2 352.9M1715.2 355.3 L1723.0 358.4 L1733.2 363.5M1739.2 365.8 L1753.6 369.8 L1757.2 371.0M1763.2 372.4 L1778.5 373.7 L1781.2 373.6M1787.2 373.5 L1803.1 373.5 L1805.2 373.8M1811.2 374.3 L1827.1 374.3 L1829.2 374.2M1835.2 373.3 L1851.1 368.2 L1853.2 367.3M1859.2 365.0 L1874.5 359.6 L1877.2 358.2M1883.2 355.2 L1899.1 347.3 L1901.2 346.0" fill="none" stroke="#4682f0" stroke-width="1"/>
<polyline points="2.6,35.3 25.5,36.1 51.0,38.4 76.5,43.0 102.0,46.8 127.6,52.7 153.1,59.5 170.4,62.6 204.1,66.4 229.6,71.0 244.9,74.3 280.6,76.6 306.1,80.2 331.6,85.1 357.1,86.8 382.7,89.4 408.2,94.0 433.7,101.6 459.2,108.0 484.7,114.4 510.2,119.5 535.7,125.1 561.2,129.7 586.7,133.5 600.0,134.4 615.3,137.0 633.2,137.0 643.4,138.3 651.0,140.8 676.5,149.7 702.0,161.2 727.6,170.2 742.9,174.0 770.9,181.1 796.4,185.5 816.8,187.5 842.3,189.8 860.2,194.9 880.6,197.7 906.1,204.6 931.6,210.2 939.3,211.0 982.7,211.0 1003.1,211.5 1028.6,213.5 1059.2,215.6 1097.4,216.8 1135.7,216.6 1174.0,216.1 1200.0,216.8 1225.5,219.3 1251.0,221.9 1276.5,224.9 1302.0,229.5 1327.6,234.6 1353.1,239.7 1368.4,243.6 1393.9,249.9 1419.4,253.8 1444.9,258.4 1470.4,262.7 1498.5,270.4 1524.0,274.2 1549.5,279.3 1575.0,284.4 1600.5,288.2 1626.0,293.3 1651.5,299.7 1677.0,303.5 1697.4,306.8 1712.8,308.6 1735.7,316.3 1761.2,322.7 1784.6,326.9 1809.3,331.3 1833.9,334.9 1846.2,336.5 1870.8,337.2 1906.5,337.2" fill="none" stroke="#980d0d" stroke-width="2"/>
<polyline points="2.6,52.7 25.5,55.7 51.0,59.5 76.5,64.6 102.0,68.0 127.6,72.3 153.1,79.9 170.4,84.5 204.1,94.7 229.6,102.1 255.1,108.0 280.6,113.9 290.8,116.4 306.1,120.0 331.6,126.6 357.1,131.2 382.7,133.5 408.2,136.1 433.7,141.2 459.2,145.0 484.7,146.5 510.2,146.5 535.7,145.0 561.2,141.2 586.7,137.9 600.0,137.8 615.3,135.7 633.2,133.2 643.4,133.2 651.0,134.4 676.5,140.8 702.0,147.2 727.6,152.3 753.1,156.6 778.6,159.9 804.1,164.3 829.6,170.2 855.1,176.5 880.6,181.6 906.1,188.0 931.6,197.4 957.1,202.0 982.7,205.9 1003.1,211.0 1033.7,219.9 1059.2,226.3 1084.7,234.4 1110.2,242.3 1135.7,248.0 1161.2,253.1 1200.0,258.9 1225.5,264.0 1251.0,269.1 1276.5,272.9 1302.0,278.0 1327.6,281.8 1353.1,285.7 1378.6,290.8 1404.1,294.6 1429.6,298.4 1455.1,301.0 1474.2,302.2 1480.6,306.1 1506.1,311.2 1531.6,316.3 1557.1,318.8 1582.7,323.2 1600.5,323.9 1620.9,329.0 1646.4,332.9 1674.5,335.4 1700.0,338.0 1723.0,343.1 1748.5,346.1 1760.0,347.6 1784.6,350.3 1809.3,352.2 1833.9,355.3 1846.2,356.5 1906.5,357.1" fill="none" stroke="#00005c" stroke-width="2"/>
</g>
<g clip-path="url(#cm)">
<circle cx="291" cy="117.4" r="4.4" fill="#6495ed"/>
<circle cx="491" cy="136.4" r="4.4" fill="#6495ed"/>
<circle cx="763.2" cy="436.4" r="4.4" fill="#6495ed"/>
<circle cx="1003" cy="347.5" r="4.4" fill="#6495ed"/>
<circle cx="1347.3" cy="195.5" r="4.4" fill="#6495ed"/>
<circle cx="1587" cy="236.9" r="4.4" fill="#6495ed"/>
<circle cx="83" cy="309.4" r="4.4" fill="#ff7f50"/>
<circle cx="339" cy="255.5" r="4.4" fill="#ff7f50"/>
<circle cx="419" cy="353.7" r="4.4" fill="#ff7f50"/>
<circle cx="923" cy="770.3" r="4.4" fill="#ff7f50"/>
<circle cx="1227" cy="384.5" r="4.4" fill="#ff7f50"/>
<circle cx="1402.6" cy="419.4" r="4.4" fill="#ff7f50"/>
<circle cx="1634.8" cy="482.4" r="4.4" fill="#ff7f50"/>
<circle cx="154.7" cy="378.1" r="5.8" fill="#a52a2a"/><ellipse cx="154.7" cy="378.1" rx="2.4" ry="3.5" fill="#ff7f50"/>
<circle cx="667.1" cy="874" r="5.8" fill="#a52a2a"/><ellipse cx="667.1" cy="874" rx="2.4" ry="3.5" fill="#ff7f50"/>
<circle cx="1490.8" cy="578.1" r="5.8" fill="#a52a2a"/><ellipse cx="1490.8" cy="578.1" rx="2.4" ry="3.5" fill="#ff7f50"/>
<circle cx="1738.9" cy="598.1" r="5.8" fill="#a52a2a"/><ellipse cx="1738.9" cy="598.1" rx="2.4" ry="3.5" fill="#ff7f50"/>
<circle cx="634.9" cy="13.3" r="5.8" fill="#191970"/><ellipse cx="634.9" cy="13.3" rx="2.2" ry="3.1" fill="#6495ed"/>
<circle cx="1187.2" cy="172" r="5.8" fill="#191970"/><ellipse cx="1187.2" cy="172" rx="2.2" ry="3.1" fill="#6495ed"/>
<circle cx="1907.05" cy="128.8" r="5.8" fill="#191970"/><ellipse cx="1907.05" cy="128.8" rx="2.2" ry="3.1" fill="#6495ed"/>
</g>
<g clip-path="url(#cm)" shape-rendering="crispEdges">
<rect x="3" y="18" width="2282" height="2" fill="#ff0000"/>
<rect x="3" y="172" width="2282" height="2" fill="#ff0000"/>
<rect x="3" y="237" width="2282" height="2" fill="#ff0000"/>
<rect x="3" y="327" width="2282" height="2" fill="#ff0000"/>
</g>
<g clip-path="url(#cm)">
<line x1="560" y1="0.06" x2="2285" y2="305.00" stroke="#000" stroke-width="2.1"/>
</g>
<g clip-path="url(#cr)" shape-rendering="crispEdges">
<line x1="170.5" y1="884" x2="170.5" y2="1007" stroke="#000" stroke-width="1" stroke-dasharray="3 3"/>
<line x1="586.5" y1="884" x2="586.5" y2="1007" stroke="#000" stroke-width="1" stroke-dasharray="3 3"/>
<line x1="1002.5" y1="884" x2="1002.5" y2="1007" stroke="#000" stroke-width="1" stroke-dasharray="3 3"/>
<line x1="1418.5" y1="884" x2="1418.5" y2="1007" stroke="#000" stroke-width="1" stroke-dasharray="3 3"/>
<line x1="1834.5" y1="884" x2="1834.5" y2="1007" stroke="#000" stroke-width="1" stroke-dasharray="3 3"/>
<line x1="2258.5" y1="884" x2="2258.5" y2="1007" stroke="#000" stroke-width="1" stroke-dasharray="3 3"/>
<polyline points="0.0,904.5 98.0,904.5 114.3,906.1 138.8,906.1 142.9,906.9 175.5,906.9 179.6,906.1 480.0,906.1 561.8,906.9 586.3,905.9 665.9,904.9 670.0,904.1 755.7,904.1 761.8,902.9 772.0,902.9 776.1,904.1 806.7,904.1 810.8,905.1 939.4,905.1 950.0,904.1 960.4,904.1 991.0,902.9 1021.6,901.4 1113.5,901.4 1133.9,900.4 1164.5,899.4 1205.3,899.4 1225.7,900.0 1256.3,900.0 1276.7,901.0 1297.1,902.9 1317.6,904.5 1348.2,905.9 1368.6,906.9 1420.0,906.9 1482.0,906.9 1484.1,905.9 1649.4,905.9 1651.4,906.9 1665.7,906.9 1667.8,905.9 1690.2,905.9 1692.2,906.9 1714.7,906.9 1716.7,905.9 1745.3,905.9 1747.3,906.9 1769.8,906.9 1771.8,905.9 1833.1,905.9 1835.1,904.9 1849.4,904.9 1851.4,904.1 1860.0,904.1 1866.9,902.9 1883.3,901.6 1907.1,901.6" fill="none" stroke="#ff7443" stroke-width="2"/>
<polyline points="0.0,910.2 98.0,910.2 114.3,912.2 480.0,912.2 561.8,912.7 565.9,911.6 592.4,911.6 596.5,910.6 665.9,910.6 670.0,910.2 806.7,910.2 810.8,911.0 950.0,911.0 970.6,910.2 1001.2,909.2 1062.4,909.2 1082.9,908.2 1123.7,908.2 1138.0,906.9 1154.3,906.1 1246.1,906.1 1258.4,907.1 1282.9,908.6 1307.3,910.2 1338.0,911.6 1368.6,912.7 1420.0,912.7 1449.4,912.7 1451.4,912.0 1745.3,912.0 1747.3,912.7 1769.8,912.7 1771.8,912.0 1833.1,912.0 1835.1,911.2 1857.6,911.2 1860.0,910.2 1875.1,909.2 1897.6,908.6 1899.6,907.8 1907.1,907.8" fill="none" stroke="#5088ee" stroke-width="2"/>
<polyline points="0.0,943.3 16.3,943.3 18.4,944.5 81.6,944.9 83.7,945.7 480.0,946.3 570.0,946.3 572.0,944.9 704.7,944.9 706.7,945.7 827.1,945.7 829.2,944.3 857.8,944.3 859.8,945.3 950.0,945.3 960.4,943.9 1001.2,943.9 1021.6,942.9 1144.1,942.9 1154.3,941.8 1266.5,941.8 1276.7,942.9 1297.1,943.9 1348.2,943.9 1368.6,944.9 1420.0,944.9 1745.3,945.3 1747.3,946.3 1769.8,946.3 1771.8,945.3 1857.6,945.3 1860.0,944.7 1860.8,943.9 1889.4,943.9 1893.5,942.9 1907.1,942.9" fill="none" stroke="#ff7443" stroke-width="2"/>
<polyline points="0.0,977.1 16.3,977.1 18.4,978.4 73.5,978.4 75.5,979.2 480.0,979.2 633.3,979.2 637.3,978.4 649.6,978.4 665.9,980.0 690.4,981.0 731.2,981.0 735.3,981.6 745.5,981.6 776.1,980.8 800.6,979.6 821.0,978.4 929.2,978.4 931.2,979.2 950.0,979.2 966.5,979.2 972.7,978.4 1152.2,978.4 1156.3,979.2 1286.9,979.2 1297.1,978.4 1327.8,978.4 1338.0,977.6 1368.6,977.6 1378.8,978.4 1420.0,978.4 1737.1,978.4 1739.2,979.2 1769.8,979.2 1771.8,978.4 1849.4,978.4 1851.4,979.2 1860.0,979.2 1889.4,979.2 1893.5,978.4 1897.6,978.4 1899.6,979.0 1907.1,979.0" fill="none" stroke="#5088ee" stroke-width="2"/>
<polyline points="0.0,983.1 16.3,983.1 18.4,984.1 73.5,984.1 75.5,985.1 480.0,985.1 641.4,985.1 645.5,984.1 653.7,984.5 665.9,986.1 684.3,987.1 712.9,987.1 714.9,988.2 770.0,988.2 776.1,987.1 800.6,986.1 821.0,984.5 912.9,984.5 914.9,985.3 950.0,985.3 966.5,985.1 972.7,984.1 1127.8,984.1 1131.8,985.1 1225.7,985.1 1229.8,986.1 1256.3,986.1 1262.4,985.1 1297.1,985.1 1303.3,984.1 1327.8,984.1 1338.0,983.1 1374.7,983.1 1378.8,984.1 1420.0,984.1 1698.4,984.1 1700.4,983.1 1704.5,983.1 1706.5,984.1 1737.1,984.1 1739.2,985.5 1753.5,985.5 1755.5,984.1 1841.2,984.1 1843.3,985.1 1860.0,985.1 1907.1,985.1" fill="none" stroke="#ff7443" stroke-width="2"/>
<polyline points="2.5,963.7 10.5,952.4 18.5,960.6 26.5,968.2 34.5,956.5 42.5,945.3 50.5,952.4 58.5,958.0 66.5,968.8 74.5,969.2 82.5,974.9 90.5,955.9 98.5,950.0 106.5,951.8 114.5,957.8 122.5,950.8 130.5,959.0 138.5,957.6 146.5,968.2 154.5,969.8 162.5,955.5 170.5,947.3 178.5,937.1 186.5,933.7 194.5,942.2 202.5,950.4 210.5,937.1 218.5,934.1 226.5,931.6 234.5,940.2 242.5,931.6 250.5,938.8 258.5,938.8 266.5,925.3 274.5,929.0 282.5,924.3 290.5,929.0 298.5,939.2 306.5,953.1 314.5,945.3 322.5,950.4 330.5,958.2 338.5,946.3 346.5,946.9 354.5,946.3 362.5,945.3 370.5,937.6 378.5,941.2 386.5,949.0 394.5,946.3 402.5,967.3 410.5,971.2 418.5,975.3 426.5,975.5 434.5,957.6 442.5,945.3 450.5,937.1 458.5,935.7 466.5,935.7 474.5,949.4 482.5,932.7 490.5,928.0 498.5,924.5 506.5,933.5 514.5,928.6 522.5,940.8 530.5,940.8 538.5,934.1 546.5,932.7 554.5,920.4 562.5,916.1 570.5,916.1 578.5,921.4 586.5,930.0 594.5,922.9 602.5,939.2 610.5,953.9 618.5,928.0 626.5,922.9 634.5,928.6 642.5,971.4 650.5,976.9 658.5,990.8 666.5,991.8 674.5,983.1 682.5,982.7 690.5,967.8 698.5,969.2 706.5,972.2 714.5,965.7 722.5,966.7 730.5,972.2 738.5,962.7 746.5,951.0 754.5,933.7 762.5,947.3 770.5,945.7 778.5,948.4 786.5,942.7 794.5,943.7 802.5,941.6 810.5,946.3 818.5,959.2 826.5,955.9 834.5,947.8 842.5,953.1 850.5,946.7 858.5,950.4 866.5,955.1 874.5,955.1 882.5,964.1 890.5,957.6 898.5,947.8 906.5,950.8 914.5,951.0 922.5,967.3 930.5,946.3 938.5,921.4 946.5,919.8 954.5,915.7 962.5,913.7 970.5,924.9 978.5,925.9 986.5,924.5 994.5,924.5 1002.5,917.3 1010.5,925.9 1018.5,935.7 1026.5,949.4 1034.5,933.7 1042.5,939.2 1050.5,936.5 1058.5,932.7 1066.5,928.6 1074.5,920.8 1082.5,929.0 1090.5,929.0 1098.5,925.9 1106.5,926.9 1114.5,926.9 1122.5,925.9 1130.5,917.8 1138.5,908.6 1146.5,907.6 1154.5,905.5 1162.5,906.5 1170.5,919.8 1178.5,916.1 1186.5,932.0 1194.5,929.0 1202.5,943.7 1210.5,951.4 1218.5,964.7 1226.5,949.8 1234.5,951.8 1242.5,940.2 1250.5,935.5 1258.5,938.6 1266.5,939.2 1274.5,944.3 1282.5,955.1 1290.5,948.8 1298.5,941.6 1306.5,945.3 1314.5,937.1 1322.5,933.7 1330.5,940.2 1338.5,929.0 1346.5,926.5 1354.5,933.5 1362.5,955.5 1370.5,971.4 1378.5,976.9 1386.5,964.3 1394.5,967.1 1402.5,951.4 1410.5,941.8 1418.5,939.2 1426.5,937.8 1434.5,947.3 1442.5,949.4 1450.5,947.3 1458.5,946.3 1466.5,951.8 1474.5,958.0 1482.5,983.1 1490.5,961.6 1498.5,946.3 1506.5,948.0 1514.5,942.9 1522.5,939.2 1530.5,935.5 1538.5,939.2 1546.5,941.8 1554.5,954.9 1562.5,954.9 1570.5,946.3 1578.5,925.9 1586.5,936.1 1594.5,950.4 1602.5,959.2 1610.5,955.1 1618.5,955.1 1626.5,962.2 1634.5,966.1 1642.5,961.2 1650.5,950.0 1658.5,950.0 1666.5,936.5 1674.5,940.8 1682.5,957.1 1690.5,966.1 1698.5,950.4 1706.5,953.9 1714.5,967.3 1722.5,973.3 1730.5,968.2 1738.5,967.8 1746.5,955.1 1754.5,939.2 1762.5,938.8 1770.5,933.1 1778.5,934.1 1786.5,923.5 1794.5,924.9 1802.5,931.0 1810.5,942.2 1818.5,935.5 1826.5,936.7 1834.5,919.8 1842.5,914.3 1850.5,913.7 1858.5,910.6 1866.5,907.6 1874.5,913.1 1882.5,907.6 1890.5,919.2 1898.5,911.0 1906.5,910.6" fill="none" stroke="#333" stroke-width="2"/>
</g>
<g clip-path="url(#cs)" shape-rendering="crispEdges">
<line x1="2" y1="1030.5" x2="2285" y2="1030.5" stroke="#c0c0c0" stroke-width="1" stroke-dasharray="3 3"/>
<line x1="2" y1="1092.5" x2="2285" y2="1092.5" stroke="#c0c0c0" stroke-width="1" stroke-dasharray="3 3"/>
<line x1="170.5" y1="1010" x2="170.5" y2="1113" stroke="#000" stroke-width="1" stroke-dasharray="3 3"/>
<line x1="586.5" y1="1010" x2="586.5" y2="1113" stroke="#000" stroke-width="1" stroke-dasharray="3 3"/>
<line x1="1002.5" y1="1010" x2="1002.5" y2="1113" stroke="#000" stroke-width="1" stroke-dasharray="3 3"/>
<line x1="1418.5" y1="1010" x2="1418.5" y2="1113" stroke="#000" stroke-width="1" stroke-dasharray="3 3"/>
<line x1="1834.5" y1="1010" x2="1834.5" y2="1113" stroke="#000" stroke-width="1" stroke-dasharray="3 3"/>
<line x1="2258.5" y1="1010" x2="2258.5" y2="1113" stroke="#000" stroke-width="1" stroke-dasharray="3 3"/>
<polyline points="2.5,1082.4 10.5,1086.1 18.5,1093.7 26.5,1095.7 34.5,1095.9 42.5,1079.0 50.5,1066.7 58.5,1066.7 66.5,1090.2 74.5,1099.4 82.5,1106.1 90.5,1093.3 98.5,1081.0 106.5,1068.2 114.5,1067.8 122.5,1064.7 130.5,1067.8 138.5,1066.1 146.5,1086.1 154.5,1090.2 162.5,1086.1 170.5,1069.8 178.5,1048.4 186.5,1032.0 194.5,1026.5 202.5,1034.1 210.5,1034.1 218.5,1030.0 226.5,1018.8 234.5,1025.3 242.5,1029.0 250.5,1042.9 258.5,1045.3 266.5,1042.2 274.5,1032.0 282.5,1016.3 290.5,1021.8 298.5,1031.0 306.5,1059.6 314.5,1073.9 322.5,1085.1 330.5,1085.1 338.5,1083.1 346.5,1076.9 354.5,1064.7 362.5,1061.0 370.5,1048.4 378.5,1036.7 386.5,1038.2 394.5,1049.4 402.5,1074.9 410.5,1090.2 418.5,1098.4 426.5,1092.2 434.5,1085.1 442.5,1075.9 450.5,1059.6 458.5,1043.3 466.5,1029.0 474.5,1028.6 482.5,1028.0 490.5,1031.4 498.5,1021.4 506.5,1026.9 514.5,1027.3 522.5,1037.6 530.5,1040.8 538.5,1044.3 546.5,1040.2 554.5,1032.0 562.5,1023.9 570.5,1015.7 578.5,1015.7 586.5,1022.9 594.5,1022.9 602.5,1030.0 610.5,1045.3 618.5,1048.4 626.5,1037.1 634.5,1026.5 642.5,1068.8 650.5,1096.3 658.5,1104.1 666.5,1101.4 674.5,1096.3 682.5,1094.7 690.5,1089.2 698.5,1087.1 706.5,1084.1 714.5,1081.0 722.5,1070.8 730.5,1060.6 738.5,1061.6 746.5,1061.2 754.5,1033.5 762.5,1034.7 770.5,1041.2 778.5,1057.1 786.5,1054.5 794.5,1053.5 802.5,1052.0 810.5,1062.7 818.5,1083.1 826.5,1099.4 834.5,1094.3 842.5,1085.7 850.5,1077.6 858.5,1083.1 866.5,1086.1 874.5,1092.2 882.5,1097.3 890.5,1093.3 898.5,1080.0 906.5,1067.8 914.5,1059.0 922.5,1076.3 930.5,1067.3 938.5,1040.8 946.5,1018.8 954.5,1012.0 962.5,1012.7 970.5,1015.7 978.5,1019.8 986.5,1022.9 994.5,1022.9 1002.5,1021.8 1010.5,1024.9 1018.5,1037.1 1026.5,1066.1 1034.5,1067.8 1042.5,1067.8 1050.5,1049.8 1058.5,1049.8 1066.5,1036.1 1074.5,1020.8 1082.5,1020.8 1090.5,1025.9 1098.5,1031.0 1106.5,1031.0 1114.5,1030.6 1122.5,1032.0 1130.5,1030.0 1138.5,1019.8 1146.5,1013.1 1154.5,1010.6 1162.5,1011.6 1170.5,1017.8 1178.5,1018.2 1186.5,1029.0 1194.5,1035.5 1202.5,1060.0 1210.5,1074.9 1218.5,1093.9 1226.5,1084.1 1234.5,1080.6 1242.5,1063.1 1250.5,1049.4 1258.5,1035.5 1266.5,1023.9 1274.5,1029.0 1282.5,1038.2 1290.5,1052.0 1298.5,1058.6 1306.5,1059.0 1314.5,1045.7 1322.5,1036.7 1330.5,1030.6 1338.5,1021.8 1346.5,1021.8 1354.5,1021.8 1362.5,1041.2 1370.5,1075.9 1378.5,1107.6 1386.5,1106.1 1394.5,1104.5 1402.5,1090.2 1410.5,1074.9 1418.5,1053.5 1426.5,1041.2 1434.5,1034.1 1442.5,1032.7 1450.5,1039.8 1458.5,1039.8 1466.5,1047.3 1474.5,1054.1 1482.5,1085.1 1490.5,1076.9 1498.5,1067.8 1506.5,1047.8 1514.5,1039.2 1522.5,1034.1 1530.5,1025.3 1538.5,1021.4 1546.5,1021.8 1554.5,1041.2 1562.5,1058.6 1570.5,1078.0 1578.5,1052.4 1586.5,1039.6 1594.5,1044.3 1602.5,1071.8 1610.5,1087.8 1618.5,1089.2 1626.5,1093.3 1634.5,1096.9 1642.5,1096.9 1650.5,1090.2 1658.5,1072.9 1666.5,1048.4 1674.5,1029.6 1682.5,1043.3 1690.5,1075.5 1698.5,1087.1 1706.5,1090.2 1714.5,1091.2 1722.5,1102.4 1730.5,1103.9 1738.5,1101.4 1746.5,1088.2 1754.5,1067.8 1762.5,1046.3 1770.5,1029.0 1778.5,1023.9 1786.5,1014.7 1794.5,1014.7 1802.5,1017.1 1810.5,1028.0 1818.5,1038.2 1826.5,1049.4 1834.5,1035.1 1842.5,1022.9 1850.5,1013.1 1858.5,1012.7 1866.5,1015.3 1874.5,1017.8 1882.5,1018.4 1890.5,1018.8 1898.5,1015.7 1906.5,1015.7" fill="none" stroke="#333" stroke-width="2"/>
<polyline points="2.5,1062.7 10.5,1074.9 18.5,1087.1 26.5,1091.2 34.5,1095.3 42.5,1090.2 50.5,1081.0 58.5,1071.8 66.5,1075.5 74.5,1086.1 82.5,1099.4 90.5,1100.0 98.5,1093.9 106.5,1081.0 114.5,1072.9 122.5,1066.7 130.5,1066.7 138.5,1066.1 146.5,1073.5 154.5,1081.0 162.5,1087.1 170.5,1082.0 178.5,1067.8 186.5,1050.4 194.5,1035.5 202.5,1031.0 210.5,1031.4 218.5,1032.0 226.5,1026.9 234.5,1023.9 242.5,1023.9 250.5,1032.0 258.5,1039.2 266.5,1043.3 274.5,1040.2 282.5,1030.6 290.5,1022.9 298.5,1022.9 306.5,1037.1 314.5,1054.5 322.5,1072.9 330.5,1082.0 338.5,1084.1 346.5,1083.1 354.5,1075.9 362.5,1068.8 370.5,1058.6 378.5,1048.4 386.5,1041.2 394.5,1041.2 402.5,1054.5 410.5,1071.8 418.5,1088.2 426.5,1093.3 434.5,1092.2 442.5,1084.1 450.5,1072.9 458.5,1059.6 466.5,1043.3 474.5,1034.1 482.5,1029.0 490.5,1029.6 498.5,1026.5 506.5,1025.9 514.5,1025.9 522.5,1031.0 530.5,1035.5 538.5,1041.2 546.5,1041.2 554.5,1038.2 562.5,1031.4 570.5,1023.9 578.5,1018.4 586.5,1018.8 594.5,1020.4 602.5,1025.9 610.5,1033.1 618.5,1042.2 626.5,1043.3 634.5,1038.2 642.5,1044.3 650.5,1063.7 658.5,1090.2 666.5,1100.4 674.5,1100.4 682.5,1097.3 690.5,1093.3 698.5,1090.2 706.5,1086.5 714.5,1083.5 722.5,1077.6 730.5,1069.8 738.5,1063.7 746.5,1061.6 754.5,1052.4 762.5,1043.3 770.5,1037.6 778.5,1046.3 786.5,1052.4 794.5,1055.1 802.5,1053.9 810.5,1055.9 818.5,1065.7 826.5,1082.0 834.5,1092.9 842.5,1093.3 850.5,1085.1 858.5,1081.0 866.5,1081.0 874.5,1086.1 882.5,1091.8 890.5,1093.3 898.5,1089.2 906.5,1079.6 914.5,1067.8 922.5,1067.8 930.5,1066.7 938.5,1060.6 946.5,1039.8 954.5,1023.9 962.5,1013.7 970.5,1013.1 978.5,1015.7 986.5,1019.4 994.5,1021.4 1002.5,1022.2 1010.5,1022.9 1018.5,1028.4 1026.5,1042.2 1034.5,1057.6 1042.5,1067.3 1050.5,1062.7 1058.5,1056.5 1066.5,1045.7 1074.5,1036.1 1082.5,1025.3 1090.5,1023.9 1098.5,1026.5 1106.5,1030.6 1114.5,1031.0 1122.5,1031.4 1130.5,1030.6 1138.5,1025.9 1146.5,1019.4 1154.5,1014.1 1162.5,1012.0 1170.5,1013.7 1178.5,1016.3 1186.5,1022.2 1194.5,1028.0 1202.5,1042.2 1210.5,1058.6 1218.5,1077.3 1226.5,1085.7 1234.5,1086.1 1242.5,1075.9 1250.5,1063.7 1258.5,1049.4 1266.5,1036.1 1274.5,1030.0 1282.5,1030.0 1290.5,1039.2 1298.5,1049.4 1306.5,1057.6 1314.5,1055.1 1322.5,1047.3 1330.5,1038.2 1338.5,1030.0 1346.5,1025.3 1354.5,1022.9 1362.5,1030.0 1370.5,1048.4 1378.5,1076.9 1386.5,1098.4 1394.5,1105.9 1402.5,1099.4 1410.5,1088.2 1418.5,1070.8 1426.5,1058.2 1434.5,1044.9 1442.5,1036.1 1450.5,1036.1 1458.5,1037.6 1466.5,1042.7 1474.5,1047.3 1482.5,1061.6 1490.5,1071.8 1498.5,1076.3 1506.5,1064.3 1514.5,1051.8 1522.5,1040.6 1530.5,1033.1 1538.5,1027.3 1546.5,1023.5 1554.5,1028.4 1562.5,1040.2 1570.5,1057.6 1578.5,1062.2 1586.5,1056.5 1594.5,1046.3 1602.5,1052.4 1610.5,1067.8 1618.5,1083.1 1626.5,1089.2 1634.5,1092.2 1642.5,1094.9 1650.5,1094.7 1658.5,1087.1 1666.5,1070.8 1674.5,1051.4 1682.5,1040.8 1690.5,1049.4 1698.5,1067.8 1706.5,1084.1 1714.5,1089.2 1722.5,1094.3 1730.5,1098.8 1738.5,1102.4 1746.5,1098.0 1754.5,1086.1 1762.5,1067.8 1770.5,1048.4 1778.5,1033.5 1786.5,1022.9 1794.5,1017.8 1802.5,1015.7 1810.5,1020.8 1818.5,1027.3 1826.5,1040.2 1834.5,1040.2 1842.5,1036.1 1850.5,1023.9 1858.5,1015.7 1866.5,1013.7 1874.5,1015.1 1882.5,1017.1 1890.5,1018.4 1898.5,1017.1 1906.5,1016.3" fill="none" stroke="#5088ee" stroke-width="2"/>
</g>
<g shape-rendering="crispEdges">
<rect x="2" y="2" width="1" height="1112" fill="#000"/>
<rect x="2285" y="2" width="1" height="1112" fill="#000"/>
<rect x="2" y="2" width="2284" height="1" fill="#000"/>
<rect x="2" y="1113" width="2284" height="1" fill="#000"/>
<rect x="2" y="880" width="2284" height="1" fill="#000"/>
<rect x="2" y="882" width="2284" height="1" fill="#000"/>
<rect x="2" y="1007" width="2284" height="1" fill="#000"/>
<rect x="2" y="1009" width="2284" height="1" fill="#000"/>
<rect x="2286" y="48" width="3" height="1" fill="#000"/>
<rect x="2286" y="80" width="3" height="1" fill="#000"/>
<rect x="2286" y="112" width="3" height="1" fill="#000"/>
<rect x="2286" y="144" width="3" height="1" fill="#000"/>
<rect x="2286" y="176" width="3" height="1" fill="#000"/>
<rect x="2286" y="208" width="3" height="1" fill="#000"/>
<rect x="2286" y="240" width="3" height="1" fill="#000"/>
<rect x="2286" y="272" width="3" height="1" fill="#000"/>
<rect x="2286" y="304" width="3" height="1" fill="#000"/>
<rect x="2286" y="336" width="3" height="1" fill="#000"/>
<rect x="2286" y="368" width="3" height="1" fill="#000"/>
<rect x="2286" y="400" width="3" height="1" fill="#000"/>
<rect x="2286" y="432" width="3" height="1" fill="#000"/>
<rect x="2286" y="464" width="3" height="1" fill="#000"/>
<rect x="2286" y="496" width="3" height="1" fill="#000"/>
<rect x="2286" y="528" width="3" height="1" fill="#000"/>
<rect x="2286" y="560" width="3" height="1" fill="#000"/>
<rect x="2286" y="592" width="3" height="1" fill="#000"/>
<rect x="2286" y="624" width="3" height="1" fill="#000"/>
<rect x="2286" y="656" width="3" height="1" fill="#000"/>
<rect x="2286" y="688" width="3" height="1" fill="#000"/>
<rect x="2286" y="720" width="3" height="1" fill="#000"/>
<rect x="2286" y="752" width="3" height="1" fill="#000"/>
<rect x="2286" y="784" width="3" height="1" fill="#000"/>
<rect x="2286" y="816" width="3" height="1" fill="#000"/>
<rect x="2286" y="848" width="3" height="1" fill="#000"/>
<rect x="2286" y="883" width="3" height="1" fill="#000"/>
<rect x="2286" y="1006" width="3" height="1" fill="#000"/>
<rect x="2286" y="1010" width="3" height="1" fill="#000"/>
<rect x="2286" y="1030" width="3" height="1" fill="#000"/>
<rect x="2286" y="1092" width="3" height="1" fill="#000"/>
<rect x="2286" y="1112" width="3" height="1" fill="#000"/>
<rect x="2" y="1114" width="1" height="4" fill="#000"/>
<rect x="130" y="1114" width="1" height="4" fill="#000"/>
<rect x="258" y="1114" width="1" height="4" fill="#000"/>
<rect x="386" y="1114" width="1" height="4" fill="#000"/>
<rect x="514" y="1114" width="1" height="4" fill="#000"/>
<rect x="642" y="1114" width="1" height="4" fill="#000"/>
<rect x="770" y="1114" width="1" height="4" fill="#000"/>
<rect x="898" y="1114" width="1" height="4" fill="#000"/>
<rect x="1026" y="1114" width="1" height="4" fill="#000"/>
<rect x="1154" y="1114" width="1" height="4" fill="#000"/>
<rect x="1282" y="1114" width="1" height="4" fill="#000"/>
<rect x="1410" y="1114" width="1" height="4" fill="#000"/>
<rect x="1538" y="1114" width="1" height="4" fill="#000"/>
<rect x="1666" y="1114" width="1" height="4" fill="#000"/>
<rect x="1794" y="1114" width="1" height="4" fill="#000"/>
</g>
<g filter="url(#gs)">
<text x="2290.7" y="52.5" fill="#000" textLength="46.4" lengthAdjust="spacingAndGlyphs">9930.05</text>
<text x="2290.7" y="84.5" fill="#000" textLength="46.4" lengthAdjust="spacingAndGlyphs">9770.23</text>
<text x="2290.7" y="116.5" fill="#000" textLength="46.4" lengthAdjust="spacingAndGlyphs">9610.41</text>
<text x="2290.7" y="148.5" fill="#000" textLength="46.4" lengthAdjust="spacingAndGlyphs">9450.59</text>
<text x="2290.7" y="180.5" fill="#000" textLength="46.4" lengthAdjust="spacingAndGlyphs">9290.77</text>
<text x="2290.7" y="212.5" fill="#000" textLength="46.4" lengthAdjust="spacingAndGlyphs">9130.95</text>
<text x="2290.7" y="244.5" fill="#000" textLength="46.4" lengthAdjust="spacingAndGlyphs">8971.13</text>
<text x="2290.7" y="276.5" fill="#000" textLength="46.4" lengthAdjust="spacingAndGlyphs">8811.31</text>
<text x="2290.7" y="308.5" fill="#000" textLength="46.4" lengthAdjust="spacingAndGlyphs">8651.49</text>
<text x="2290.7" y="340.5" fill="#000" textLength="46.4" lengthAdjust="spacingAndGlyphs">8491.67</text>
<text x="2290.7" y="372.5" fill="#000" textLength="46.4" lengthAdjust="spacingAndGlyphs">8331.85</text>
<text x="2290.7" y="404.5" fill="#000" textLength="46.4" lengthAdjust="spacingAndGlyphs">8172.03</text>
<text x="2290.7" y="436.5" fill="#000" textLength="46.4" lengthAdjust="spacingAndGlyphs">8012.21</text>
<text x="2290.7" y="468.5" fill="#000" textLength="46.4" lengthAdjust="spacingAndGlyphs">7852.39</text>
<text x="2290.7" y="500.5" fill="#000" textLength="46.4" lengthAdjust="spacingAndGlyphs">7692.57</text>
<text x="2290.7" y="532.5" fill="#000" textLength="46.4" lengthAdjust="spacingAndGlyphs">7532.75</text>
<text x="2290.7" y="564.5" fill="#000" textLength="46.4" lengthAdjust="spacingAndGlyphs">7372.93</text>
<text x="2290.7" y="596.5" fill="#000" textLength="46.4" lengthAdjust="spacingAndGlyphs">7213.11</text>
<text x="2290.7" y="628.5" fill="#000" textLength="46.4" lengthAdjust="spacingAndGlyphs">7053.29</text>
<text x="2290.7" y="660.5" fill="#000" textLength="46.4" lengthAdjust="spacingAndGlyphs">6893.47</text>
<text x="2290.7" y="692.5" fill="#000" textLength="46.4" lengthAdjust="spacingAndGlyphs">6733.65</text>
<text x="2290.7" y="724.5" fill="#000" textLength="46.4" lengthAdjust="spacingAndGlyphs">6573.83</text>
<text x="2290.7" y="756.5" fill="#000" textLength="46.4" lengthAdjust="spacingAndGlyphs">6414.01</text>
<text x="2290.7" y="788.5" fill="#000" textLength="46.4" lengthAdjust="spacingAndGlyphs">6254.19</text>
<text x="2290.7" y="820.5" fill="#000" textLength="46.4" lengthAdjust="spacingAndGlyphs">6094.37</text>
<text x="2290.7" y="852.5" fill="#000" textLength="46.4" lengthAdjust="spacingAndGlyphs">5934.55</text>
<text x="1.6" y="1129" fill="#000" textLength="71.9" lengthAdjust="spacingAndGlyphs">12 Aug 2018</text>
<text x="129.6" y="1129" fill="#000" textLength="63.9" lengthAdjust="spacingAndGlyphs">2 Dec 2018</text>
<text x="257.6" y="1129" fill="#000" textLength="69.9" lengthAdjust="spacingAndGlyphs">24 Mar 2019</text>
<text x="385.6" y="1129" fill="#000" textLength="65.9" lengthAdjust="spacingAndGlyphs">14 Jul 2019</text>
<text x="513.6" y="1129" fill="#000" textLength="64.9" lengthAdjust="spacingAndGlyphs">3 Nov 2019</text>
<text x="641.6" y="1129" fill="#000" textLength="69.9" lengthAdjust="spacingAndGlyphs">23 Feb 2020</text>
<text x="769.6" y="1129" fill="#000" textLength="69.9" lengthAdjust="spacingAndGlyphs">14 Jun 2020</text>
<text x="897.6" y="1129" fill="#000" textLength="61.9" lengthAdjust="spacingAndGlyphs">4 Oct 2020</text>
<text x="1025.6" y="1129" fill="#000" textLength="68.9" lengthAdjust="spacingAndGlyphs">24 Jan 2021</text>
<text x="1153.6" y="1129" fill="#000" textLength="71.9" lengthAdjust="spacingAndGlyphs">16 May 2021</text>
<text x="1281.6" y="1129" fill="#000" textLength="63.9" lengthAdjust="spacingAndGlyphs">5 Sep 2021</text>
<text x="1409.6" y="1129" fill="#000" textLength="70.9" lengthAdjust="spacingAndGlyphs">26 Dec 2021</text>
<text x="1537.6" y="1129" fill="#000" textLength="68.9" lengthAdjust="spacingAndGlyphs">17 Apr 2022</text>
<text x="1665.6" y="1129" fill="#000" textLength="64.9" lengthAdjust="spacingAndGlyphs">7 Aug 2022</text>
<text x="1793.6" y="1129" fill="#000" textLength="71.9" lengthAdjust="spacingAndGlyphs">27 Nov 2022</text>
<text x="2291" y="894" fill="#000" textLength="39.4" lengthAdjust="spacingAndGlyphs">100.00</text>
<text x="2291" y="1005" fill="#000" textLength="25.4" lengthAdjust="spacingAndGlyphs">0.00</text>
<text x="2291" y="1021" fill="#000" textLength="39.4" lengthAdjust="spacingAndGlyphs">100.00</text>
<text x="2291" y="1035" fill="#000" textLength="32.4" lengthAdjust="spacingAndGlyphs">80.00</text>
<text x="2291" y="1097" fill="#000" textLength="32.4" lengthAdjust="spacingAndGlyphs">20.00</text>
<text x="2291" y="1111" fill="#000" textLength="25.4" lengthAdjust="spacingAndGlyphs">0.00</text>
<g shape-rendering="crispEdges">
<rect x="2286" y="16" width="3" height="1" fill="#000"/>
<rect x="2288" y="12" width="61" height="14" fill="#ff0000"/>
<rect x="2288" y="166" width="54" height="14" fill="#ff0000"/>
<rect x="2288" y="231" width="54" height="14" fill="#ff0000"/>
<rect x="2288" y="321" width="54" height="14" fill="#ff0000"/>
<rect x="2288" y="127" width="54" height="1" fill="#00b4dc"/>
<rect x="2288" y="128" width="54" height="14" fill="#444444"/>
</g>
<text x="2292.3" y="23.5" fill="#fff" textLength="52.5" lengthAdjust="spacingAndGlyphs">10075.75</text>
<text x="2291" y="177.5" fill="#fff" textLength="46.4" lengthAdjust="spacingAndGlyphs">9305.54</text>
<text x="2291" y="242.5" fill="#fff" textLength="46.4" lengthAdjust="spacingAndGlyphs">8980.93</text>
<text x="2291" y="332.5" fill="#fff" textLength="46.4" lengthAdjust="spacingAndGlyphs">8531.46</text>
<text x="2291" y="140" fill="#fff" textLength="46.4" lengthAdjust="spacingAndGlyphs">9497.10</text>
<text x="8.3" y="16" fill="#000" textLength="205" lengthAdjust="spacingAndGlyphs">.SPAINCash, Weekly:&#160; Spain 35 Index</text>
<text x="4.4" y="898" fill="#000" textLength="464.7" lengthAdjust="spacingAndGlyphs">RSI(8) 76.85 Bands(233) 51.093 79.403 22.782 Bands(233) 51.093 84.499 17.686</text>
<text x="4.4" y="1025" fill="#000" textLength="145" lengthAdjust="spacingAndGlyphs">Stoch(8,3,3) 93.19 92.70</text>
</g>
</svg></body></html>
